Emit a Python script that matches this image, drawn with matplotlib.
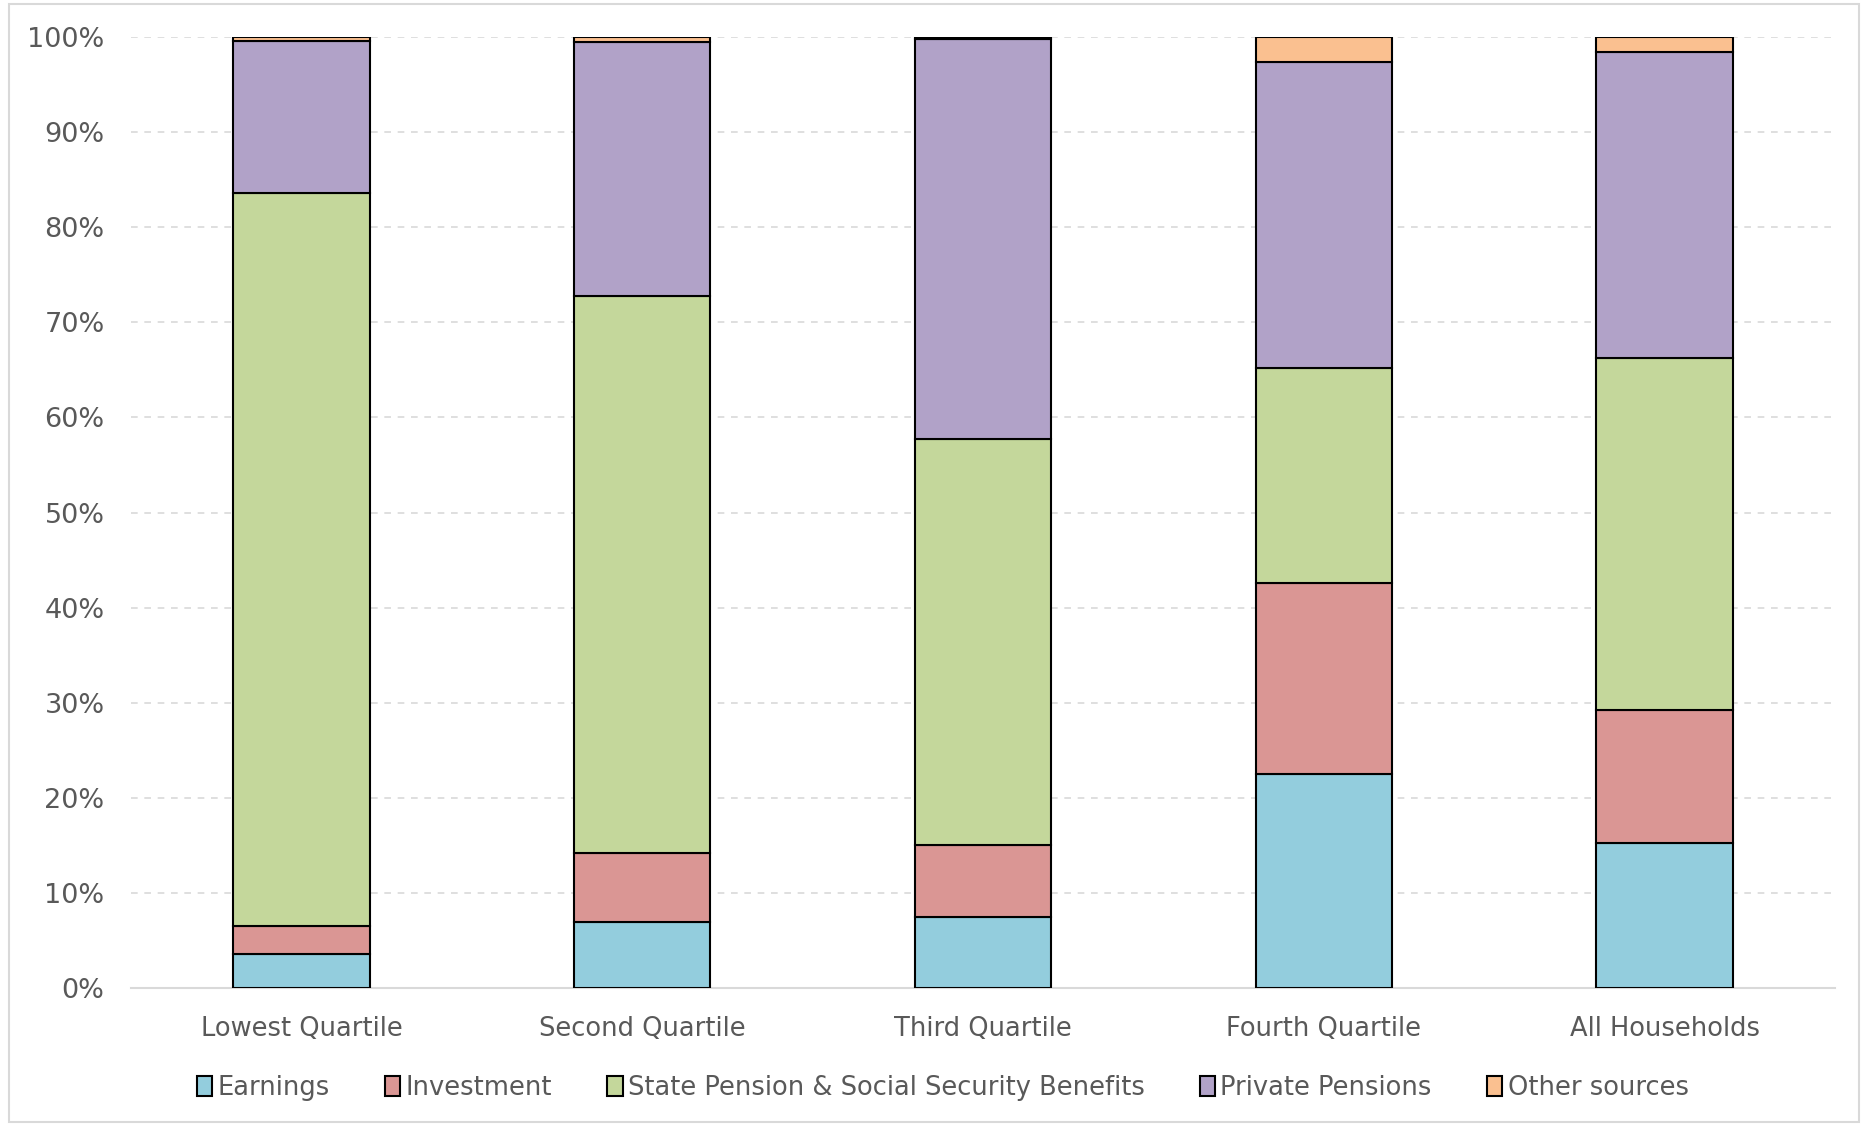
import matplotlib.pyplot as plt
import numpy as np
from matplotlib.patches import Rectangle

categories = ["Lowest Quartile", "Second Quartile", "Third Quartile", "Fourth Quartile", "All Households"]
series_names = ["Earnings", "Investment", "State Pension & Social Security Benefits", "Private Pensions", "Other sources"]
earnings = [3.6, 6.9, 7.5, 22.5, 15.2]
investment = [2.9, 7.3, 7.5, 20.1, 14.0]
state_pension = [77.1, 58.6, 42.7, 22.6, 37.0]
private_pensions = [16.0, 26.7, 42.1, 32.2, 32.2]
other_sources = [0.4, 0.5, 0.2, 2.6, 1.6]
colors = ["#93CDDD", "#DA9694", "#C4D79B", "#B1A2C8", "#FAC090"]

plt.rcParams['font.family'] = ['DejaVu Sans']

fig = plt.figure(figsize=(18.63, 11.24), dpi=100)
ax = fig.add_axes([0.0703, 0.121, 0.9147, 0.846])

x = np.arange(len(categories))
bottom = np.zeros(len(categories))
for name, vals, col in zip(series_names,
                           [earnings, investment, state_pension, private_pensions, other_sources],
                           colors):
    ax.bar(x, vals, width=0.4, bottom=bottom, color=col, edgecolor="black",
           linewidth=1.5, label=name, zorder=3)
    bottom += np.array(vals)

ax.set_xlim(-0.5, len(categories) - 0.5)
ax.set_ylim(0, 100)
ax.set_yticks(np.arange(0, 101, 10))
ax.set_yticklabels([f"{v}%" for v in range(0, 101, 10)])
ax.set_xticks(x)
ax.set_xticklabels(categories)
ax.tick_params(axis="both", length=0, labelcolor="#595959")
ax.tick_params(axis="x", pad=20, labelsize=18.5)
ax.tick_params(axis="y", pad=19, labelsize=19.5)
ax.yaxis.grid(True, color="#D9D9D9", linestyle=(0, (4, 4)), linewidth=1.2, zorder=0)
for s in ["top", "right", "left"]:
    ax.spines[s].set_visible(False)
ax.spines["bottom"].set_color("#D9D9D9")
ax.spines["bottom"].set_linewidth(1.5)

leg = fig.legend(loc="center", bbox_to_anchor=(0.506, 0.032), ncol=5, frameon=False,
                 fontsize=18.5, handlelength=0.6, handleheight=0.8, handletextpad=0.2,
                 columnspacing=2.15)
for t in leg.get_texts():
    t.set_color("#595959")

fig.patches.append(Rectangle((0.005, 0.002), 0.993, 0.994, transform=fig.transFigure,
                             fill=False, edgecolor="#D9D9D9", linewidth=1.5))

fig.savefig("out.png", dpi=100)
